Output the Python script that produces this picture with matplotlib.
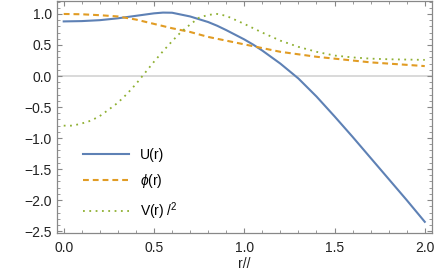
import matplotlib.pyplot as plt
from matplotlib.ticker import MultipleLocator

# values
r = [0.0, 0.1, 0.2, 0.3, 0.4, 0.5, 0.55, 0.6, 0.7, 0.8, 0.85, 0.9, 1.0,
     1.05, 1.1, 1.2, 1.3, 1.4, 1.5, 1.6, 1.7, 1.8, 1.9, 2.0]
u_vals = [0.88, 0.885, 0.90, 0.93, 0.97, 1.01, 1.022, 1.02, 0.96, 0.87, 0.81, 0.74, 0.59,
          0.505, 0.41, 0.20, -0.04, -0.33, -0.65, -0.98, -1.32, -1.66, -2.00, -2.35]
phi_vals = [1.0, 0.995, 0.98, 0.96, 0.91, 0.84, 0.805, 0.77, 0.71, 0.63, 0.60, 0.57, 0.51,
            0.48, 0.45, 0.39, 0.35, 0.31, 0.28, 0.25, 0.22, 0.20, 0.18, 0.16]

r_v = [0.0, 0.05, 0.1, 0.15, 0.2, 0.25, 0.3, 0.35, 0.4, 0.45, 0.5, 0.55, 0.6, 0.65,
       0.7, 0.75, 0.8, 0.85, 0.9, 1.0, 1.1, 1.2, 1.3, 1.4, 1.5, 1.6, 1.7, 1.8, 1.9, 2.0]
v_vals = [-0.80, -0.80, -0.765, -0.72, -0.645, -0.54, -0.43, -0.29, -0.13, 0.05, 0.23,
          0.40, 0.56, 0.71, 0.83, 0.94, 0.985, 1.0, 0.97, 0.84, 0.70, 0.57, 0.47, 0.39,
          0.33, 0.30, 0.28, 0.27, 0.265, 0.26]

labels = ["U(r)", "$\\phi$(r)", "V(r) /$^{\\mathrm{2}}$"]
colors = ["#5E81B5", "#E19C24", "#8FB032"]

plt.rcParams['font.family'] = ['Liberation Sans', 'DejaVu Sans']
plt.rcParams['mathtext.fontset'] = 'custom'
plt.rcParams['mathtext.it'] = 'Liberation Sans:italic'
plt.rcParams['mathtext.rm'] = 'Liberation Sans'

fig = plt.figure(figsize=(4.36, 2.79), dpi=100)
ax = fig.add_axes([56.5 / 436, (279 - 233) / 279, (432 - 56.5) / 436, 232.5 / 279])

ax.axhline(0, color="#d0d0d0", lw=1.1, zorder=1)

ax.plot(r, u_vals, color=colors[0], lw=1.5, label=labels[0], zorder=3)
ax.plot(r, phi_vals, color=colors[1], lw=1.5, ls=(0, (2.8, 1.9)), label=labels[1], zorder=3)
ax.plot(r_v, v_vals, color=colors[2], lw=1.3, ls=(0, (1, 2.5)), label=labels[2], zorder=3)

ax.set_xlim(-0.04, 2.04)
ax.set_ylim(-2.53, 1.217)

ax.xaxis.set_major_locator(MultipleLocator(0.5))
ax.xaxis.set_minor_locator(MultipleLocator(0.1))
ax.yaxis.set_major_locator(MultipleLocator(0.5))
ax.yaxis.set_minor_locator(MultipleLocator(0.1))
ax.xaxis.set_major_formatter(plt.FuncFormatter(lambda v, p: f"{v:.1f}"))
ax.yaxis.set_major_formatter(plt.FuncFormatter(lambda v, p: f"{v:.1f}".replace("-", "\u2212")))

for s in ax.spines.values():
    s.set_color("#888888")
    s.set_linewidth(0.9)
ax.tick_params(which="both", direction="in", top=True, right=True, color="#888888",
               labelsize=10, labelcolor="#222222")
ax.tick_params(which="major", length=3.6, width=0.8)
ax.tick_params(which="minor", length=1.9, width=0.6)
ax.tick_params(axis="x", which="major", pad=5.5)
ax.tick_params(axis="y", which="major", pad=3.5)

ax.set_xlabel("r//", fontsize=10, color="#222222", labelpad=1.5)

ax.legend(loc="lower left", bbox_to_anchor=(83 / 436, (279 - 222) / 279),
          bbox_transform=fig.transFigure, frameon=False, fontsize=10,
          handlelength=3.3, handletextpad=0.8, labelspacing=0.75,
          borderpad=0, borderaxespad=0)

plt.savefig("out.png", dpi=100)
